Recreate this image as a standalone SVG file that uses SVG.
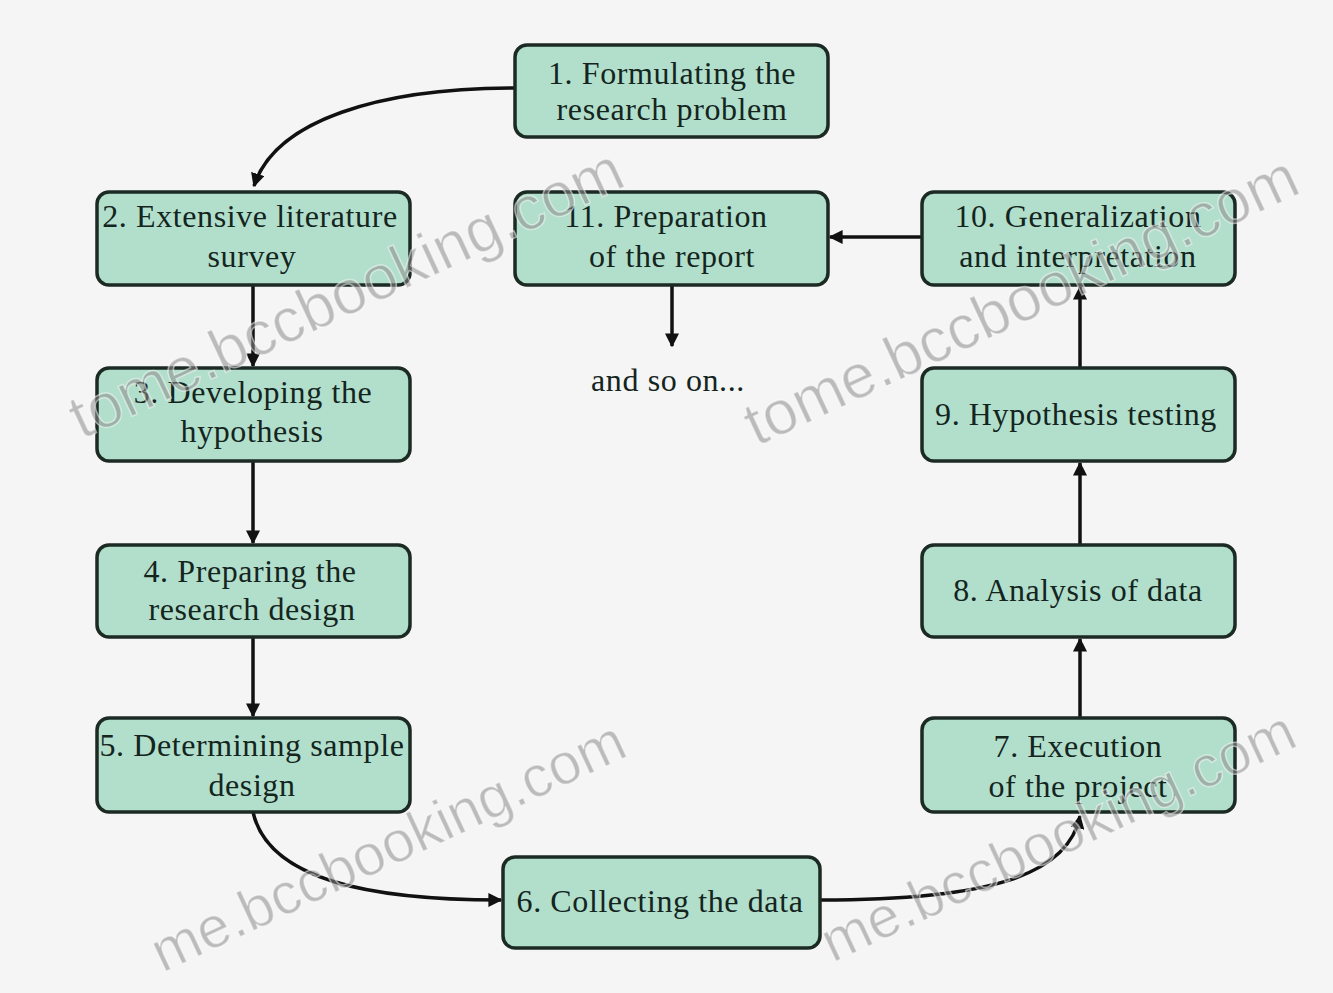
<svg xmlns="http://www.w3.org/2000/svg" width="1333" height="993" viewBox="0 0 1333 993">
<style>
.box{fill:#b2dfcc;stroke:#1c2a24;stroke-width:3.5}
.t{font-family:"Liberation Serif","Times New Roman",serif;font-size:32px;letter-spacing:0.6px;fill:#14251e;text-anchor:middle}
.c{fill:none;stroke:#111;stroke-width:3.5}
.wm{font-family:"Liberation Sans",Arial,sans-serif;font-size:62px;fill:#8a8a8a;fill-opacity:0.55;stroke:#ffffff;stroke-opacity:0.5;stroke-width:1.5;text-anchor:end}
.wm2{font-size:58px}
</style>
<defs>
<marker id="ah" viewBox="0 0 10 10" refX="9" refY="5" markerWidth="4" markerHeight="4" orient="auto" markerUnits="strokeWidth">
<path d="M0,0 L10,5 L0,10 z" fill="#111"/>
</marker>
</defs>
<rect x="0" y="0" width="1333" height="993" fill="#f5f5f5"/>
<g id="connectors">
<path class="c" d="M515,88 C 380,88 275,120 254,186" marker-end="url(#ah)"/>
<path class="c" d="M253,285 L253,366" marker-end="url(#ah)"/>
<path class="c" d="M253,461 L253,543" marker-end="url(#ah)"/>
<path class="c" d="M253,637 L253,716" marker-end="url(#ah)"/>
<path class="c" d="M253,812 C 268,880 370,900 501,900" marker-end="url(#ah)"/>
<path class="c" d="M820,900 C 990,900 1068,875 1080,816" marker-end="url(#ah)"/>
<path class="c" d="M1080,718 L1080,639" marker-end="url(#ah)"/>
<path class="c" d="M1080,545 L1080,463" marker-end="url(#ah)"/>
<path class="c" d="M1080,368 L1080,287" marker-end="url(#ah)"/>
<path class="c" d="M922,237 L830,237" marker-end="url(#ah)"/>
<path class="c" d="M672,285 L672,346" marker-end="url(#ah)"/>
</g>
<g id="n1"><rect class="box" x="515" y="45" width="313" height="92" rx="12"/><text class="t" x="672" y="84">1.  Formulating the</text><text class="t" x="672" y="120">research problem</text></g>
<g id="n2"><rect class="box" x="97" y="192" width="313" height="93" rx="12"/><text class="t" x="250" y="227">2. Extensive literature</text><text class="t" x="252" y="267">survey</text></g>
<g id="n3"><rect class="box" x="97" y="368" width="313" height="93" rx="12"/><text class="t" x="253" y="403">3. Developing the</text><text class="t" x="252" y="442">hypothesis</text></g>
<g id="n4"><rect class="box" x="97" y="545" width="313" height="92" rx="12"/><text class="t" x="250" y="582">4. Preparing the</text><text class="t" x="252" y="620">research design</text></g>
<g id="n5"><rect class="box" x="97" y="718" width="313" height="94" rx="12"/><text class="t" x="252" y="756">5. Determining sample</text><text class="t" x="252" y="796">design</text></g>
<g id="n6"><rect class="box" x="503" y="857" width="317" height="91" rx="12"/><text class="t" x="660" y="912">6. Collecting  the data</text></g>
<g id="n7"><rect class="box" x="922" y="718" width="313" height="94" rx="12"/><text class="t" x="1078" y="757">7. Execution</text><text class="t" x="1078" y="797">of the project</text></g>
<g id="n8"><rect class="box" x="922" y="545" width="313" height="92" rx="12"/><text class="t" x="1078" y="601">8. Analysis of data</text></g>
<g id="n9"><rect class="box" x="922" y="368" width="313" height="93" rx="12"/><text class="t" x="1076" y="425">9. Hypothesis testing</text></g>
<g id="n10"><rect class="box" x="922" y="192" width="313" height="93" rx="12"/><text class="t" x="1078" y="227">10. Generalization</text><text class="t" x="1078" y="267">and interpretation</text></g>
<g id="n11"><rect class="box" x="515" y="192" width="313" height="93" rx="12"/><text class="t" x="666" y="227">11. Preparation</text><text class="t" x="672" y="267">of the report</text></g>
<g id="n12"><text class="t" x="668" y="391">and so on...</text></g>
<g id="watermarks">
<text class="wm" transform="translate(628,185) rotate(-25)">tome.bccbooking.com</text>
<text class="wm" transform="translate(1303,192) rotate(-25)">tome.bccbooking.com</text>
<text class="wm wm2" transform="translate(630,755) rotate(-25)">me.bccbooking.com</text>
<text class="wm wm2" transform="translate(1300,745) rotate(-25)">me.bccbooking.com</text>
</g>
</svg>
